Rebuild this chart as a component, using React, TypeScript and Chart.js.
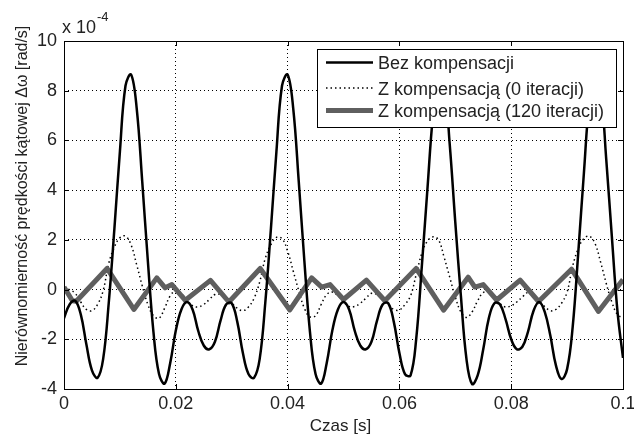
import React, { useEffect, useRef } from 'react';
import { Chart, registerables } from 'chart.js';

Chart.register(...registerables);

// time axis (s), sampled every 1 ms for the two smooth series
const TIME_S: number[] = Array.from({ length: 101 }, (_, i) => i / 1000);

// "Bez kompensacji" (x 10^-4 rad/s)
const BEZ_KOMP: number[] = [
  -1.15, -0.6, -0.45, -1.0, -2.2, -3.25, -3.55, -2.8, -0.55, 2.4,
  5.55, 8.2, 8.65, 7.3, 4.33, 1.15, -1.7, -3.4, -3.78, -2.95,
  -1.65, -0.8, -0.5, -0.8, -1.65, -2.25, -2.4, -2.1, -1.25, -0.6,
  -0.55, -1.3, -2.55, -3.4, -3.55, -2.8, -0.55, 2.4, 5.55, 8.2,
  8.65, 7.3, 4.33, 1.15, -1.7, -3.4, -3.78, -2.95, -1.65, -0.8,
  -0.5, -0.8, -1.65, -2.25, -2.4, -2.1, -1.25, -0.6, -0.55, -1.3,
  -2.55, -3.4, -3.45, -2.0, 0.9, 4.0, 7.0, 8.62, 8.3, 5.85,
  2.7, -0.25, -2.8, -3.8, -3.45, -2.4, -1.15, -0.55, -0.6, -1.2,
  -2.0, -2.4, -2.3, -1.7, -0.85, -0.5, -0.9, -1.85, -3.05, -3.6,
  -3.2, -1.5, 1.5, 4.67, 7.6, 8.69, 8.05, 5.25, 2.15, -0.85,
  -2.75,
];

// "Z kompensacją (0 iteracji)"
const KOMP_0: number[] = [
  0.05, 0.0, -0.15, -0.5, -0.8, -0.85, -0.6, -0.05, 1.05, 1.7,
  2.08, 2.15, 1.8, 1.0, 0.15, -0.6, -1.05, -1.15, -0.75, -0.25,
  -0.05, -0.15, -0.45, -0.65, -0.7, -0.6, -0.4, -0.2, -0.2, -0.35,
  -0.55, -0.75, -0.85, -0.7, -0.35, 0.3, 1.25, 1.8, 2.1, 2.05,
  1.55, 0.75, -0.05, -0.75, -1.1, -1.05, -0.6, -0.2, -0.1, -0.25,
  -0.5, -0.68, -0.68, -0.55, -0.35, -0.15, -0.2, -0.4, -0.6, -0.8,
  -0.82, -0.6, -0.25, 0.6, 1.45, 1.95, 2.12, 2.0, 1.3, 0.5,
  -0.3, -0.9, -1.12, -0.9, -0.45, -0.12, -0.1, -0.35, -0.57, -0.7,
  -0.65, -0.5, -0.3, -0.12, -0.28, -0.48, -0.68, -0.85, -0.8, -0.55,
  -0.1, 0.95, 1.65, 2.05, 2.15, 1.85, 1.1, 0.25, -0.5, -1.0,
  -1.15,
];

// "Z kompensacją (120 iteracji)" – vertices (time in ms)
const KOMP_120_T_MS: number[] = [
  0, 1.5, 2.2, 7.7, 12.5, 16.6, 18.1, 19.3, 21.7, 26.2,
  29.5, 35.1, 40.4, 44.3, 46.1, 47.6, 50.0, 54.1, 57.4, 63.0,
  67.9, 72.3, 73.5, 75.0, 77.4, 81.6, 84.9, 90.8, 95.6, 100,
];
const KOMP_120: number[] = [
  0.1, -0.45, -0.47, 0.85, -0.8, 0.47, 0.07, 0.2, -0.43, 0.37,
  -0.5, 0.85, -0.82, 0.47, 0.1, 0.2, -0.4, 0.38, -0.45, 0.85,
  -0.83, 0.5, 0.1, 0.2, -0.42, 0.38, -0.48, 0.82, -0.88, 0.4,
];

const SERIES_NAMES = ['Bez kompensacji', 'Z kompensacją (0 iteracji)', 'Z kompensacją (120 iteracji)'];
const X_TICK_LABELS = ['0', '0.02', '0.04', '0.06', '0.08', '0.1'];
const X_TITLE = 'Czas [s]';
const Y_TITLE = 'Nierównomierność prędkości kątowej Δω [rad/s]';
const EXP_BASE = 'x 10';
const EXP_POWER = '-4';

const FONT = '"Liberation Sans", Arial, Helvetica, sans-serif';
const GRAY = '#5f5f5f';
const TEXT = '#222';

const decorPlugin = {
  id: 'decor',
  afterDraw(chart: any) {
    const { ctx, chartArea } = chart;
    const { left, right, top, bottom } = chartArea;
    ctx.save();
    // frame
    ctx.strokeStyle = '#000';
    ctx.lineWidth = 1;
    ctx.setLineDash([]);
    ctx.strokeRect(Math.round(left) + 0.5, Math.round(top) + 0.5, Math.round(right - left), Math.round(bottom - top));
    // inward tick marks
    const xs = chart.scales.x;
    const ys = chart.scales.y;
    const tl = 5;
    ctx.beginPath();
    xs.ticks.forEach((t: any) => {
      const px = Math.round(xs.getPixelForValue(t.value)) + 0.5;
      ctx.moveTo(px, bottom);
      ctx.lineTo(px, bottom - tl);
      ctx.moveTo(px, top);
      ctx.lineTo(px, top + tl);
    });
    ys.ticks.forEach((t: any) => {
      const py = Math.round(ys.getPixelForValue(t.value)) + 0.5;
      ctx.moveTo(left, py);
      ctx.lineTo(left + tl, py);
      ctx.moveTo(right, py);
      ctx.lineTo(right - tl, py);
    });
    ctx.stroke();

    // exponent label
    ctx.fillStyle = TEXT;
    ctx.textAlign = 'left';
    ctx.textBaseline = 'alphabetic';
    ctx.font = `18px ${FONT}`;
    ctx.fillText(EXP_BASE, left - 2, top - 8);
    const w = ctx.measureText(EXP_BASE).width;
    ctx.font = `13px ${FONT}`;
    ctx.fillText(EXP_POWER, left - 2 + w + 1, top - 20);

    // x title
    ctx.font = `17px ${FONT}`;
    ctx.textAlign = 'center';
    ctx.fillText(X_TITLE, (left + right) / 2 - 3, 431);

    // y title
    ctx.save();
    ctx.translate(27, 196);
    ctx.rotate(-Math.PI / 2);
    ctx.font = `16px ${FONT}`;
    ctx.textAlign = 'center';
    ctx.fillText(Y_TITLE, 0, 0);
    ctx.restore();

    // legend
    const bx = right - 306;
    const by = top + 8;
    const bw = 299;
    const bh = 78;
    ctx.fillStyle = '#fff';
    ctx.fillRect(bx, by, bw, bh);
    ctx.strokeStyle = '#000';
    ctx.lineWidth = 1;
    ctx.strokeRect(bx + 0.5, by + 0.5, bw, bh);
    const rows = [by + 13.5, by + 39, by + 61.5];
    const styles = [
      { color: '#000', width: 2.5, dash: [] as number[] },
      { color: '#000', width: 1.5, dash: [1.5, 3] },
      { color: GRAY, width: 5, dash: [] as number[] },
    ];
    ctx.font = `18px ${FONT}`;
    ctx.textAlign = 'left';
    ctx.textBaseline = 'middle';
    SERIES_NAMES.forEach((name, i) => {
      const s = styles[i];
      ctx.beginPath();
      ctx.strokeStyle = s.color;
      ctx.lineWidth = s.width;
      ctx.setLineDash(s.dash);
      ctx.moveTo(bx + 9, rows[i]);
      ctx.lineTo(bx + 56, rows[i]);
      ctx.stroke();
      ctx.setLineDash([]);
      ctx.fillStyle = TEXT;
      ctx.fillText(name, bx + 61, rows[i] + 2);
    });
    ctx.restore();
  },
};

export default function App() {
  const ref = useRef<HTMLCanvasElement>(null);
  useEffect(() => {
    if (!ref.current) return;
    const chart = new Chart(ref.current, {
      type: 'line',
      data: {
        datasets: [
          {
            label: SERIES_NAMES[0],
            data: BEZ_KOMP.map((y, i) => ({ x: TIME_S[i], y })),
            borderColor: '#000',
            borderWidth: 2.5,
            pointRadius: 0,
            tension: 0.4,
            order: 0,
          },
          {
            label: SERIES_NAMES[1],
            data: KOMP_0.map((y, i) => ({ x: TIME_S[i], y })),
            borderColor: '#000',
            borderWidth: 1.5,
            borderDash: [1.5, 3],
            pointRadius: 0,
            tension: 0.4,
            order: 2,
          },
          {
            label: SERIES_NAMES[2],
            data: KOMP_120_T_MS.map((t, i) => ({ x: t / 1000, y: KOMP_120[i] })),
            borderColor: GRAY,
            borderWidth: 5,
            pointRadius: 0,
            tension: 0,
            borderJoinStyle: 'round',
            order: 1,
          },
        ] as any,
      },
      options: {
        responsive: false,
        animation: false,
        devicePixelRatio: 1,
        layout: { padding: { left: 0, right: 11, top: 41, bottom: 0 } },
        plugins: { legend: { display: false }, tooltip: { enabled: false } },
        scales: {
          x: {
            type: 'linear',
            min: 0,
            max: 0.1,
            afterFit: (s: any) => {
              s.height = 45;
              s.paddingLeft = 0;
              s.paddingRight = 0;
            },
            ticks: {
              stepSize: 0.02,
              padding: 4,
              maxRotation: 0,
              autoSkip: false,
              color: TEXT,
              font: { family: FONT, size: 18 },
              callback: (v: any, i: number) => X_TICK_LABELS[i] ?? String(v),
            },
            grid: { color: '#000', lineWidth: 1, drawTicks: false },
            border: { display: false, dash: [1, 3] },
          },
          y: {
            type: 'linear',
            min: -4,
            max: 10,
            afterFit: (s: any) => {
              s.width = 64;
              s.paddingTop = 0;
              s.paddingBottom = 0;
            },
            ticks: {
              stepSize: 2,
              padding: 7,
              color: TEXT,
              font: { family: FONT, size: 18 },
              callback: (v: any) => String(v),
            },
            grid: { color: '#000', lineWidth: 1, drawTicks: false },
            border: { display: false, dash: [1, 3] },
          },
        },
      } as any,
      plugins: [decorPlugin],
    });
    return () => chart.destroy();
  }, []);
  return (
    <canvas
      ref={ref}
      width={634}
      height={434}
      style={{ position: 'absolute', left: 0, top: 0, width: 634, height: 434 }}
    />
  );
}
